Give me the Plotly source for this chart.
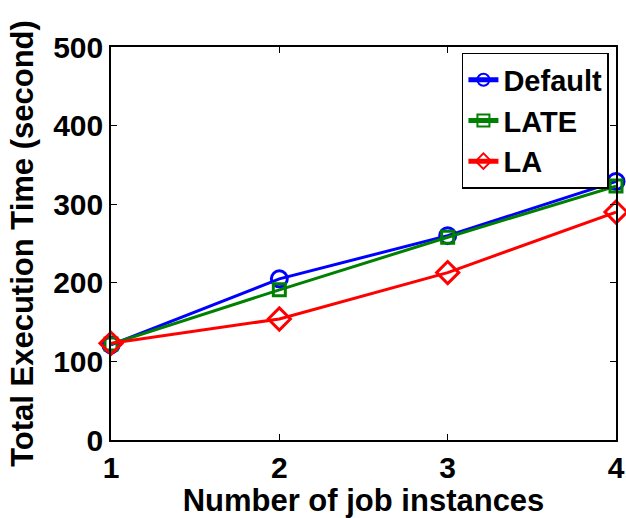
import plotly.graph_objects as go

x_vals = [1, 2, 3, 4]
default_vals = [121, 205, 260, 329]
late_vals = [122, 191, 258, 323]
la_vals = [123, 154, 213, 290]
x_ticks = [1, 2, 3, 4]
y_ticks = [0, 100, 200, 300, 400, 500]

FONT = "Liberation Sans"

fig = go.Figure()
series = [
    ("Default", default_vals, "#0000FF", "circle-open", 16),
    ("LATE", late_vals, "#008000", "square-open", 12),
    ("LA", la_vals, "#FF0000", "diamond-open", 17),
]
for name, vals, color, sym, size in series:
    fig.add_trace(go.Scatter(
        x=x_vals, y=vals, name=name, mode="lines+markers",
        line=dict(color=color, width=3),
        marker=dict(symbol=sym, size=size, color=color, line=dict(color=color, width=3)),
        cliponaxis=False,
    ))

axis_common = dict(
    showgrid=False, zeroline=False, showline=True, linecolor="black", linewidth=1.5,
    mirror="allticks", ticks="inside", ticklen=6, tickwidth=1, tickcolor="black",
    tickfont=dict(family=FONT, size=30, color="black", weight="bold"),
    automargin=False,
)

fig.update_layout(
    width=626, height=518,
    margin=dict(l=111, r=10, t=47, b=78),
    paper_bgcolor="white", plot_bgcolor="white",
    showlegend=True,
    legend=dict(
        x=0.986, y=0.985, xanchor="right", yanchor="top",
        bgcolor="white", bordercolor="black", borderwidth=1.5,
        font=dict(family=FONT, size=29, color="black", weight="bold"),
        tracegroupgap=0, itemsizing="constant",
    ),
    xaxis=dict(
        range=[1, 4], tickvals=x_ticks, ticktext=[str(v) for v in x_ticks],
        title=dict(text="Number of job instances", standoff=2,
                   font=dict(family=FONT, size=31, color="black", weight="bold")),
        **axis_common,
    ),
    yaxis=dict(
        range=[0, 500], tickvals=y_ticks, ticktext=[str(v) for v in y_ticks],
        title=dict(text="Total Execution Time (second)", standoff=10,
                   font=dict(family=FONT, size=31, color="black", weight="bold")),
        **axis_common,
    ),
)

fig.write_html("out.html")
